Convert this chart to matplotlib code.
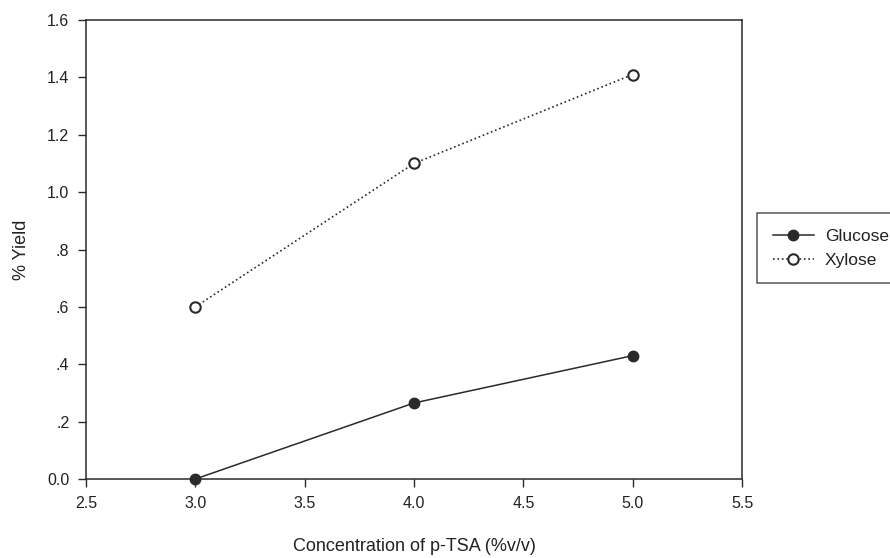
import matplotlib
matplotlib.use("Agg")
import matplotlib.pyplot as plt

plt.rcParams['font.family'] = ['Liberation Sans', 'DejaVu Sans']

conc = [3.0, 4.0, 5.0]
glucose = [0.0, 0.265, 0.43]
xylose = [0.60, 1.10, 1.41]
yticks = [0.0, 0.2, 0.4, 0.6, 0.8, 1.0, 1.2, 1.4, 1.6]
ytick_labels = ["0.0", ".2", ".4", ".6", ".8", "1.0", "1.2", "1.4", "1.6"]
xticks = [2.5, 3.0, 3.5, 4.0, 4.5, 5.0, 5.5]
xtick_labels = ["2.5", "3.0", "3.5", "4.0", "4.5", "5.0", "5.5"]

fig = plt.figure(figsize=(8.9, 5.58), dpi=100)
ax = fig.add_axes([86/890, 1-479/558, (742-86)/890, (479-20)/558])
c = '#2a2a2a'
ax.plot(conc, glucose, '-', color=c, lw=1.1, marker='o', ms=7.5,
        mfc=c, mec=c, label='Glucose', clip_on=False, zorder=3)
ax.plot(conc, xylose, ':', color=c, lw=1.2, marker='o', ms=7.5,
        mfc='white', mec=c, mew=1.5, label='Xylose', clip_on=False, zorder=3)

ax.set_xlim(2.5, 5.5)
ax.set_ylim(0, 1.6)
ax.set_xticks(xticks)
ax.set_xticklabels(xtick_labels)
ax.set_yticks(yticks)
ax.set_yticklabels(ytick_labels)
ax.tick_params(direction='out', length=6, width=1, colors=c, labelsize=11.5,
               labelcolor='#222', pad=6)
for s in ax.spines.values():
    s.set_linewidth(1.1)
    s.set_color(c)
ax.set_xlabel('Concentration of p-TSA (%v/v)', fontsize=13, color='#222', labelpad=20)
ax.set_ylabel('% Yield', fontsize=13, color='#222', labelpad=12)

leg = fig.legend(loc='upper left', bbox_to_anchor=(757/890, 1-213/558),
                 fontsize=12.5, frameon=True, fancybox=False, handlelength=2.4,
                 borderpad=0.9, labelspacing=0.5, handletextpad=0.6,
                 borderaxespad=0)
leg.get_frame().set_edgecolor(c)
leg.get_frame().set_linewidth(1.1)
for t in leg.get_texts():
    t.set_color('#222')

fig.savefig('out.png', dpi=100)
